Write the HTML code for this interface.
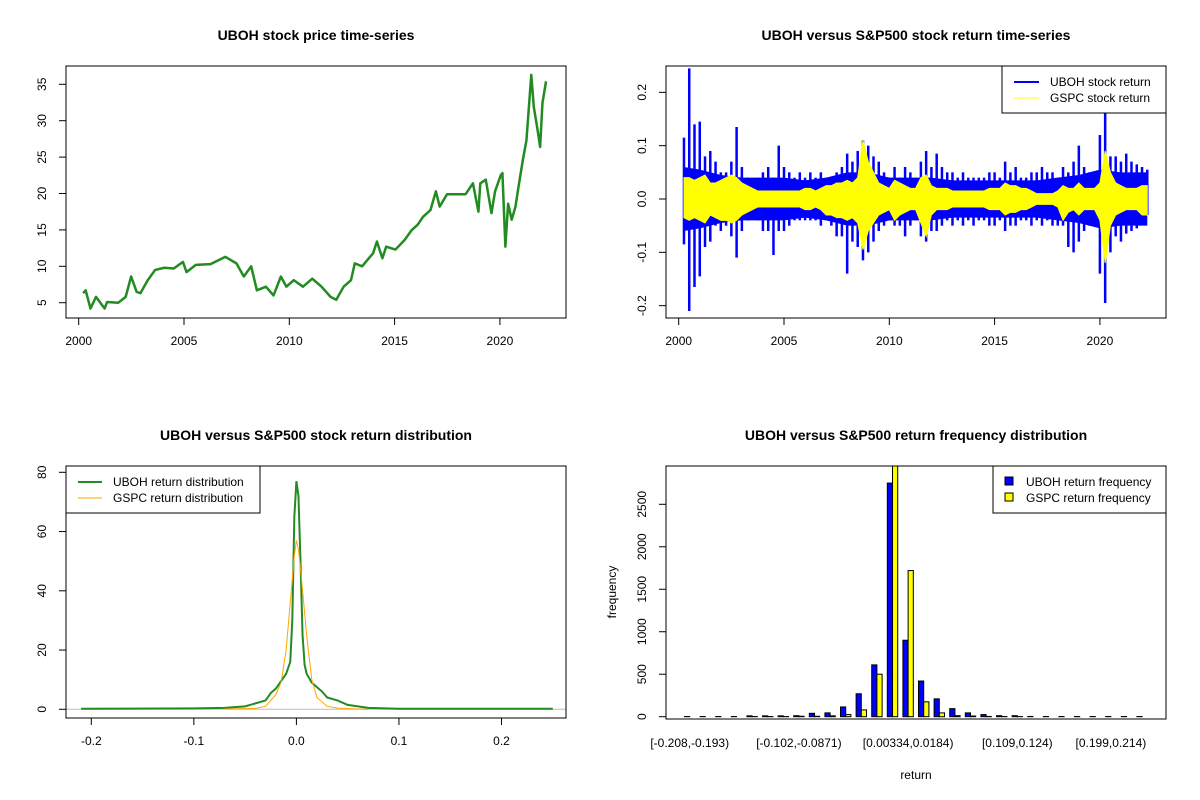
<!DOCTYPE html>
<html><head><meta charset="utf-8"><style>
body{margin:0;background:#fff}
svg{display:block;font-family:"Liberation Sans",Arial,sans-serif}
</style></head><body>
<svg id="c" width="1200" height="800" viewBox="0 0 1200 800"></svg>
<script>
// ---- data ----
const priceYears=[2000.21,2000.33,2000.56,2000.82,2001.23,2001.35,2001.88,2002.23,2002.49,2002.75,2002.93,2003.28,2003.63,2004.07,2004.51,2004.95,2005.12,2005.56,2006.26,2006.96,2007.49,2007.84,2008.19,2008.46,2008.89,2009.25,2009.6,2009.86,2010.21,2010.65,2011.09,2011.53,2011.96,2012.23,2012.58,2012.93,2013.11,2013.46,2013.63,2013.98,2014.16,2014.42,2014.6,2015.04,2015.47,2015.82,2016.09,2016.35,2016.7,2016.96,2017.14,2017.49,2018.02,2018.37,2018.72,2018.98,2019.07,2019.33,2019.6,2019.77,2020.04,2020.12,2020.26,2020.39,2020.56,2020.74,2020.91,2021.09,2021.26,2021.49,2021.61,2021.79,2021.91,2022.02,2022.19];
const priceVals=[6.3,6.7,4.2,5.8,4.2,5.1,5.0,5.8,8.6,6.5,6.3,8.1,9.5,9.8,9.7,10.6,9.2,10.2,10.3,11.3,10.4,8.6,10.0,6.7,7.2,6.0,8.6,7.2,8.1,7.2,8.3,7.2,5.8,5.4,7.2,8.1,10.4,10.0,10.6,11.8,13.4,11.1,12.7,12.3,13.6,15.0,15.7,16.8,17.7,20.3,18.2,19.9,19.9,19.9,21.4,17.5,21.4,21.9,17.3,20.3,22.5,22.8,12.7,18.6,16.4,18.2,21.4,24.6,27.3,36.3,31.9,28.7,26.4,32.4,35.4];
const retStart=2000.25, retStep=0.25;
const uMax=[0.115,0.245,0.14,0.145,0.08,0.09,0.07,0.05,0.05,0.07,0.135,0.06,0.04,0.03,0.04,0.05,0.06,0.04,0.1,0.06,0.05,0.04,0.05,0.04,0.05,0.04,0.05,0.04,0.04,0.05,0.06,0.085,0.07,0.09,0.11,0.1,0.08,0.07,0.05,0.04,0.06,0.04,0.06,0.05,0.04,0.07,0.09,0.06,0.085,0.06,0.05,0.05,0.04,0.05,0.04,0.04,0.04,0.04,0.05,0.05,0.04,0.07,0.05,0.06,0.04,0.04,0.05,0.05,0.06,0.05,0.05,0.04,0.06,0.05,0.07,0.1,0.06,0.05,0.05,0.12,0.165,0.08,0.08,0.07,0.085,0.07,0.065,0.06,0.055];
const uMin=[-0.085,-0.21,-0.165,-0.145,-0.09,-0.08,-0.05,-0.06,-0.05,-0.07,-0.11,-0.06,-0.04,-0.03,-0.04,-0.06,-0.06,-0.105,-0.06,-0.06,-0.05,-0.04,-0.04,-0.04,-0.04,-0.04,-0.05,-0.04,-0.05,-0.07,-0.07,-0.14,-0.08,-0.09,-0.115,-0.1,-0.08,-0.06,-0.05,-0.04,-0.05,-0.05,-0.07,-0.05,-0.04,-0.07,-0.08,-0.06,-0.06,-0.05,-0.04,-0.05,-0.04,-0.05,-0.04,-0.05,-0.04,-0.04,-0.05,-0.05,-0.04,-0.06,-0.05,-0.05,-0.04,-0.04,-0.05,-0.04,-0.05,-0.04,-0.05,-0.05,-0.05,-0.09,-0.1,-0.08,-0.06,-0.05,-0.05,-0.14,-0.195,-0.1,-0.07,-0.08,-0.065,-0.06,-0.055,-0.045,-0.03];
const coreYears=[2000.25,2001,2002,2003,2004,2005,2006,2007,2008,2009,2010,2011,2012,2013,2014,2015,2016,2017,2018,2019,2020,2021,2022.25];
const uCore=[0.06,0.055,0.045,0.04,0.04,0.04,0.035,0.04,0.05,0.05,0.04,0.04,0.04,0.035,0.035,0.035,0.035,0.035,0.04,0.045,0.055,0.05,0.05];
const gMax=[0.04,0.04,0.035,0.04,0.045,0.03,0.03,0.035,0.04,0.045,0.04,0.03,0.025,0.02,0.015,0.015,0.015,0.015,0.015,0.015,0.015,0.015,0.015,0.02,0.02,0.015,0.02,0.025,0.025,0.03,0.03,0.035,0.03,0.04,0.11,0.07,0.05,0.03,0.025,0.02,0.035,0.03,0.025,0.02,0.02,0.04,0.045,0.025,0.02,0.02,0.02,0.015,0.015,0.015,0.015,0.015,0.015,0.015,0.02,0.02,0.02,0.03,0.025,0.025,0.02,0.02,0.015,0.01,0.01,0.01,0.01,0.015,0.025,0.02,0.02,0.03,0.02,0.02,0.02,0.03,0.09,0.05,0.03,0.025,0.02,0.02,0.02,0.025,0.025];
const gMin=[-0.035,-0.04,-0.035,-0.04,-0.045,-0.03,-0.035,-0.04,-0.04,-0.045,-0.04,-0.03,-0.025,-0.02,-0.015,-0.015,-0.015,-0.015,-0.015,-0.015,-0.015,-0.015,-0.015,-0.02,-0.02,-0.015,-0.02,-0.03,-0.03,-0.035,-0.035,-0.04,-0.035,-0.045,-0.095,-0.06,-0.045,-0.03,-0.025,-0.02,-0.04,-0.03,-0.025,-0.02,-0.02,-0.045,-0.07,-0.03,-0.02,-0.02,-0.02,-0.015,-0.015,-0.015,-0.015,-0.015,-0.015,-0.015,-0.02,-0.02,-0.02,-0.03,-0.025,-0.025,-0.02,-0.02,-0.015,-0.01,-0.01,-0.01,-0.01,-0.015,-0.04,-0.025,-0.02,-0.03,-0.02,-0.02,-0.02,-0.04,-0.12,-0.05,-0.03,-0.025,-0.02,-0.02,-0.02,-0.03,-0.03];
const densX=[-0.21,-0.1,-0.07,-0.05,-0.04,-0.03,-0.025,-0.02,-0.015,-0.01,-0.006,-0.004,-0.002,0,0.002,0.004,0.006,0.008,0.01,0.015,0.02,0.025,0.03,0.04,0.05,0.06,0.07,0.1,0.25];
const densU=[0.2,0.3,0.5,1,2,3,5.5,7,9.5,12,16,30,65,77,72,50,25,15,12,9,7.5,6,4,3,1.5,1,0.5,0.2,0.2];
const densGX=[-0.07,-0.04,-0.03,-0.02,-0.015,-0.01,-0.005,-0.002,0,0.002,0.005,0.01,0.015,0.02,0.03,0.04,0.06,0.07];
const densG=[0.1,0.3,1,5,9,20,40,52,57,54,44,25,10,4,1,0.4,0.1,0];
const binLabels=["[-0.208,-0.193)","[-0.102,-0.0871)","[0.00334,0.0184)","[0.109,0.124)","[0.199,0.214)"];
const binLabelIdx=[0,7,14,21,27];
const histU=[2,2,2,2,10,10,10,12,40,45,115,270,610,2750,900,420,210,95,45,25,12,12,3,2,2,2,2,2,2,2];
const histG=[0,0,0,0,2,2,2,5,5,10,25,80,500,3000,1720,175,45,12,8,3,2,1,0,0,0,0,0,0,0,0];
const yearTicks=[2000,2005,2010,2015,2020];
const priceTicks=[5,10,15,20,25,30,35];
const retTicks=[-0.2,-0.1,0,0.1,0.2];
const densXTicks=[-0.2,-0.1,0,0.1,0.2];
const densYTicks=[0,20,40,60,80];
const histYTicks=[0,500,1000,1500,2000,2500];

// ---- helpers ----
const svg=document.getElementById('c');
const NS='http://www.w3.org/2000/svg';
function mk(tag,attrs,parent){const e=document.createElementNS(NS,tag);for(const k in attrs)e.setAttribute(k,attrs[k]);(parent||svg).appendChild(e);return e;}
function txt(s,x,y,opt,parent){const e=mk('text',Object.assign({x:x,y:y,'text-anchor':'middle','font-size':12,fill:'#000'},opt||{}),parent);e.textContent=s;return e;}
const L=66,R=566,T=66,B=318;
function panel(ox,oy,name){const g=mk('g',{transform:`translate(${ox},${oy})`});return g;}
function box(g){const r=mk('rect',{x:L,y:T,width:R-L,height:B-T,fill:'none',stroke:'#000','stroke-width':1},g);}
function title(g,s){const t=txt(s,316,40,{'font-size':14,'font-weight':'bold'},g);}
function xAxis(g,ticks,fx,fmt){const a=mk('g',{},g);
 mk('line',{x1:fx(ticks[0]),x2:fx(ticks[ticks.length-1]),y1:B,y2:B,stroke:'#000'},a);
 ticks.forEach(t=>{mk('line',{x1:fx(t),x2:fx(t),y1:B,y2:B+7,stroke:'#000'},a);const l=txt(fmt(t),fx(t),B+27,{},a);});}
function yAxis(g,ticks,fy,fmt){const a=mk('g',{},g);
 mk('line',{x1:L,x2:L,y1:fy(ticks[0]),y2:fy(ticks[ticks.length-1]),stroke:'#000'},a);
 ticks.forEach(t=>{mk('line',{x1:L-7,x2:L,y1:fy(t),y2:fy(t),stroke:'#000'},a);const l=txt(fmt(t),0,0,{transform:`translate(${L-20},${fy(t)}) rotate(-90)`},a);});}
function poly(g,xs,ys,attrs){return mk('polyline',Object.assign({points:xs.map((x,i)=>x+','+ys[i]).join(' '),fill:'none'},attrs),g);}

const fYear=y=>78.7+(y-2000)*21.06;

// ---- panel 1: price ----
{const g=panel(0,0,'price-panel');title(g,'UBOH stock price time-series');
 const fy=v=>84.3+(35-v)*7.28;
 const cp=mk('clipPath',{id:'cp1'},g);mk('rect',{x:L,y:T,width:R-L,height:B-T},cp);
 const p=poly(g,priceYears.map(fYear),priceVals.map(fy),{stroke:'#228B22','stroke-width':2.5,'stroke-linejoin':'round','clip-path':'url(#cp1)'});
 
 xAxis(g,yearTicks,fYear,t=>t);yAxis(g,priceTicks,fy,t=>t);box(g);}

// ---- panel 2: returns ----
{const g=panel(600,0,'return-panel');title(g,'UBOH versus S&P500 stock return time-series');
 const fy=v=>199+(-v)*533.3;
 const yrs=uMax.map((_,i)=>retStart+i*retStep);
 const cpts=[];coreYears.forEach((y,i)=>cpts.push(fYear(y)+','+fy(uCore[i])));for(let i=coreYears.length-1;i>=0;i--)cpts.push(fYear(coreYears[i])+','+fy(-uCore[i]));
 const core=mk('polygon',{points:cpts.join(' '),fill:'#0000FF'},g);
 const sp=mk('g',{},g);
 yrs.forEach((y,i)=>{const l=mk('line',{x1:fYear(y),x2:fYear(y),y1:fy(uMax[i]),y2:fy(uMin[i]),stroke:'#0000FF','stroke-width':2.5},sp);
  });
 const pts=[];yrs.forEach((y,i)=>pts.push(fYear(y)+','+fy(gMax[i])));for(let i=yrs.length-1;i>=0;i--)pts.push(fYear(yrs[i])+','+fy(gMin[i]));
 const ge=mk('polygon',{points:pts.join(' '),fill:'#FFFF00',stroke:'#FFFF00','stroke-width':1},g);
 xAxis(g,yearTicks,fYear,t=>t);yAxis(g,retTicks,fy,t=>t.toFixed(1));box(g);
 const lg=mk('g',{},g);
 mk('rect',{x:402,y:66,width:164,height:47,fill:'#fff',stroke:'#000'},lg);
 mk('line',{x1:414,x2:439,y1:82,y2:82,stroke:'#0000FF','stroke-width':2},lg);
 mk('line',{x1:414,x2:439,y1:98,y2:98,stroke:'#FFFF00','stroke-width':1},lg);
 txt('UBOH stock return',450,86,{'text-anchor':'start'},lg);txt('GSPC stock return',450,102,{'text-anchor':'start'},lg);}

// ---- panel 3: density ----
{const g=panel(0,400,'density-panel');title(g,'UBOH versus S&P500 stock return distribution');
 const fx=v=>296.4+v*1025.5, fy=v=>309.3-v*2.9625;
 mk('line',{x1:L,x2:R,y1:fy(0),y2:fy(0),stroke:'#BEBEBE'},g);
 const a=poly(g,densX.map(fx),densU.map(fy),{stroke:'#228B22','stroke-width':2});
 const b=poly(g,densGX.map(fx),densG.map(fy),{stroke:'#FFA500','stroke-width':1});
 xAxis(g,densXTicks,fx,t=>t.toFixed(1));yAxis(g,densYTicks,fy,t=>t);box(g);
 const lg=mk('g',{},g);
 mk('rect',{x:66,y:66,width:194,height:47,fill:'#fff',stroke:'#000'},lg);
 mk('line',{x1:78,x2:102,y1:82,y2:82,stroke:'#228B22','stroke-width':2},lg);
 mk('line',{x1:78,x2:102,y1:98,y2:98,stroke:'#FFA500','stroke-width':1},lg);
 txt('UBOH return distribution',113,86,{'text-anchor':'start'},lg);txt('GSPC return distribution',113,102,{'text-anchor':'start'},lg);}

// ---- panel 4: histogram ----
{const g=panel(600,400,'histogram-panel');title(g,'UBOH versus S&P500 return frequency distribution');
 const fx=u=>L+(u+2.56)*5.2, fy=v=>316.7-v*0.08496;
 const cp=mk('clipPath',{id:'cp4'},g);mk('rect',{x:L,y:T,width:R-L,height:B-T},cp);
 const bars=mk('g',{'clip-path':'url(#cp4)'},g);
 histU.forEach((v,i)=>{const u=i*3+1;
  const r1=mk('rect',{x:fx(u),y:fy(v),width:5.2,height:fy(0)-fy(v),fill:'#0000FF',stroke:'#000','stroke-width':1},bars);
  
  const gv=histG[i];
  const r2=mk('rect',{x:fx(u+1),y:fy(gv),width:5.2,height:fy(0)-fy(gv),fill:'#FFFF00',stroke:'#000','stroke-width':1},bars);
  });
 binLabelIdx.forEach((bi,k)=>{const l=txt(binLabels[k],fx(bi*3+2),347,{},g);});
 yAxis(g,histYTicks,fy,t=>t);
 mk('rect',{x:L,y:T,width:R-L,height:B-T+1,fill:'none',stroke:'#000'},g);
 const xl=txt('return',316,379,{},g);
 const yl=txt('frequency',0,0,{transform:'translate(16,192) rotate(-90)'},g);
 const lg=mk('g',{},g);
 mk('rect',{x:393,y:66,width:173,height:47,fill:'#fff',stroke:'#000'},lg);
 mk('rect',{x:405,y:77,width:8,height:8,fill:'#0000FF',stroke:'#000'},lg);
 mk('rect',{x:405,y:93,width:8,height:8,fill:'#FFFF00',stroke:'#000'},lg);
 txt('UBOH return frequency',426,86,{'text-anchor':'start'},lg);txt('GSPC return frequency',426,102,{'text-anchor':'start'},lg);}
</script>
</body></html>
